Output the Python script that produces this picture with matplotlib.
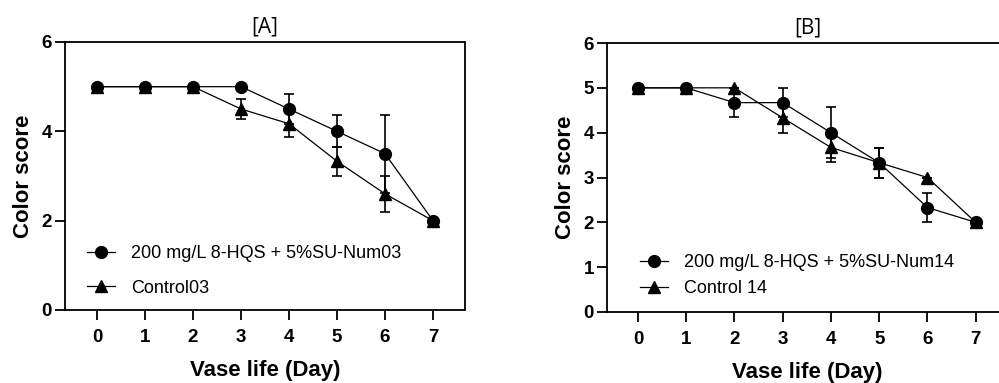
import matplotlib
matplotlib.use("Agg")
import matplotlib.pyplot as plt
from matplotlib.lines import Line2D

days = [0, 1, 2, 3, 4, 5, 6, 7]

a_treat = [5, 5, 5, 5, 4.5, 4.0, 3.5, 2.0]
a_treat_err = [0, 0, 0, 0, 0.33, 0.36, 0.87, 0]
a_ctrl = [5, 5, 5, 4.5, 4.17, 3.33, 2.6, 2.0]
a_ctrl_err = [0, 0, 0, 0.22, 0.29, 0.33, 0.4, 0]

b_treat = [5, 5, 4.67, 4.67, 4.0, 3.33, 2.33, 2.0]
b_treat_err = [0, 0, 0.33, 0.33, 0.57, 0.33, 0.33, 0]
b_ctrl = [5, 5, 5, 4.33, 3.67, 3.33, 3.0, 2.0]
b_ctrl_err = [0, 0, 0, 0.33, 0.33, 0.33, 0, 0]

a_labels = ["200 mg/L 8-HQS + 5%SU-Num03", "Control03"]
b_labels = ["200 mg/L 8-HQS + 5%SU-Num14", "Control 14"]

plt.rcParams['font.family'] = ['Liberation Sans', 'DejaVu Sans']

fig = plt.figure(figsize=(9.99, 3.83), dpi=100)

def panel(rect, xlim, treat, terr, ctrl, cerr, labels, yticks, title, leg_loc, leg_spacing, right_spine=True):
    ax = fig.add_axes(rect)
    ax.errorbar(days, ctrl, yerr=cerr, color='black', lw=0.9, marker='^', ms=8,
                capsize=3.8, elinewidth=1.2, capthick=1.2, zorder=2)
    ax.errorbar(days, treat, yerr=terr, color='black', lw=0.9, marker='o', ms=8.5,
                capsize=3.8, elinewidth=1.2, capthick=1.2, zorder=3)
    ax.set_xlim(*xlim)
    ax.set_ylim(0, 6)
    ax.set_xticks(days)
    ax.set_yticks(yticks)
    for s in ax.spines.values():
        s.set_linewidth(1.3)
    ax.spines['right'].set_visible(right_spine)
    ax.tick_params(axis='both', direction='out', length=7.5, width=1.3, labelsize=13.5)
    ax.tick_params(axis='x', pad=6)
    ax.tick_params(axis='y', pad=2)
    for lab in ax.get_xticklabels() + ax.get_yticklabels():
        lab.set_fontweight('bold')
    ax.set_xlabel('Vase life (Day)', fontsize=16, fontweight='bold', labelpad=10)
    ax.set_ylabel('Color score', fontsize=16, fontweight='bold', labelpad=5.5)
    ax.set_title(title, fontsize=15, family=['Open Sans', 'DejaVu Sans'], pad=7)
    handles = [Line2D([], [], color='black', lw=0.9, marker='o', ms=8.5),
               Line2D([], [], color='black', lw=0.9, marker='^', ms=8)]
    ax.legend(handles, labels, loc='lower left', bbox_to_anchor=leg_loc, frameon=False,
              fontsize=13, handlelength=1.55, handletextpad=0.9, labelspacing=leg_spacing,
              borderaxespad=0, borderpad=0)
    return ax

panel([65/999, 1 - 310/383, 400/999, 268/383], (-0.667, 7.667),
      a_treat, a_treat_err, a_ctrl, a_ctrl_err, a_labels, [0, 2, 4, 6], '[A]',
      (0.055, 0.05), 0.95)
panel([607/999, 1 - 312/383, 401/999, 269/383], (-0.642, 7.67),
      b_treat, b_treat_err, b_ctrl, b_ctrl_err, b_labels, [0, 1, 2, 3, 4, 5, 6], '[B]',
      (0.082, 0.054), 0.5, right_spine=False)

fig.savefig('out.png', dpi=100)
